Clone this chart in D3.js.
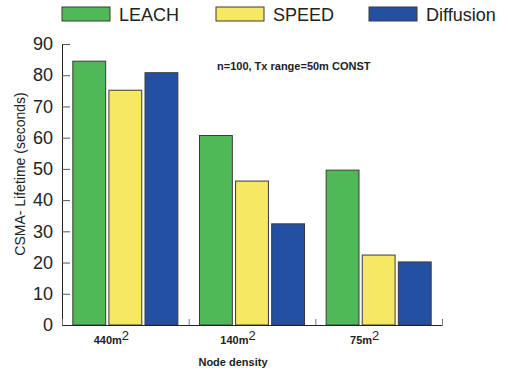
<!DOCTYPE html>
<html><head><meta charset="utf-8">
<script src="https://cdn.jsdelivr.net/npm/d3@7"></script>
<style>body{margin:0;background:#fff;}svg{display:block;font-family:Arial,"Liberation Sans",sans-serif;}</style>
</head><body>
<svg id="c" width="508" height="373"></svg>
<script>
const categories = ["440m", "140m", "75m"];
const seriesNames = ["LEACH", "SPEED", "Diffusion"];
const leach = [84.5, 60.7, 49.6];
const speed = [75.2, 46.1, 22.4];
const diffusion = [80.8, 32.4, 20.2];
const yTicks = [0, 10, 20, 30, 40, 50, 60, 70, 80, 90];
const colors = ["#4fb957", "#f6e862", "#2350a2"];

(function () {
const series = [leach, speed, diffusion];
const svg = d3.select("#c");
const pLeft = 62, pRight = 442, pTop = 44, pBottom = 325;

const x0 = d3.scaleBand().domain(categories).range([pLeft, pRight]).paddingInner(0).paddingOuter(0);
const x1 = d3.scaleBand().domain(seriesNames).range([0, x0.bandwidth()]).paddingInner(0.09).paddingOuter(0.3);
const y = d3.scaleLinear().domain([0, 90]).range([pBottom, pTop]);

// bars
categories.forEach((c, i) => {
  seriesNames.forEach((s, j) => {
    svg.append("rect")
      .attr("x", x0(c) + x1(s))
      .attr("y", y(series[j][i]))
      .attr("width", x1.bandwidth())
      .attr("height", y(0) - y(series[j][i]))
      .attr("fill", colors[j])
      .attr("stroke", "#3a3a3a")
      .attr("stroke-width", 1);
  });
});

// y axis
const yAxis = d3.axisLeft(y).tickValues(yTicks).tickSizeInner(-8).tickSizeOuter(0).tickPadding(9);
const gy = svg.append("g").attr("transform", `translate(${pLeft},0)`).call(yAxis);
gy.select(".domain").attr("stroke", "#222");
gy.selectAll(".tick line").attr("stroke", "#555");
gy.selectAll(".tick text").attr("font-size", 18).attr("fill", "#222").attr("font-family", "Arial,'Liberation Sans',sans-serif");

// x axis
const boundaries = [pLeft].concat(categories.map(c => x0(c) + x0.bandwidth()));
const xb = d3.scaleLinear().domain([pLeft, pRight]).range([pLeft, pRight]);
const xAxis = d3.axisBottom(xb).tickValues(boundaries).tickSizeInner(-6).tickSizeOuter(0).tickFormat("");
const gx = svg.append("g").attr("transform", `translate(0,${pBottom})`).call(xAxis);
gx.select(".domain").attr("stroke", "#222");
gx.selectAll(".tick line").attr("stroke", "#777");

// category labels
categories.forEach(c => {
  const t = svg.append("text")
    .attr("x", x0(c) + x0.bandwidth() / 2 - 14)
    .attr("y", 344)
    .attr("text-anchor", "middle")
    .attr("font-size", 11).attr("font-weight", "bold").attr("fill", "#222");
  t.append("tspan").text(c);
  t.append("tspan").attr("dy", -4).attr("font-size", 13).attr("font-weight", "normal").text("2");
});

svg.append("text").attr("x", 233).attr("y", 366).attr("text-anchor", "middle")
  .attr("font-size", 11).attr("font-weight", "bold").attr("fill", "#222").text("Node density");

svg.append("text").attr("transform", `translate(25,174) rotate(-90)`).attr("text-anchor", "middle")
  .attr("font-size", 14).attr("fill", "#222").text("CSMA- Lifetime (seconds)");

svg.append("text").attr("x", 217).attr("y", 70)
  .attr("font-size", 11).attr("font-weight", "bold").attr("fill", "#222").text("n=100, Tx range=50m CONST");

// legend
const legX = [62, 216, 369];
seriesNames.forEach((s, j) => {
  svg.append("rect").attr("x", legX[j]).attr("y", 7).attr("width", 48).attr("height", 14)
    .attr("fill", colors[j]).attr("stroke", "#3a3a3a").attr("stroke-width", 1);
  svg.append("text").attr("x", legX[j] + 57).attr("y", 20.5)
    .attr("font-size", 18).attr("fill", "#222").text(s);
});
})();
</script>
</body></html>
